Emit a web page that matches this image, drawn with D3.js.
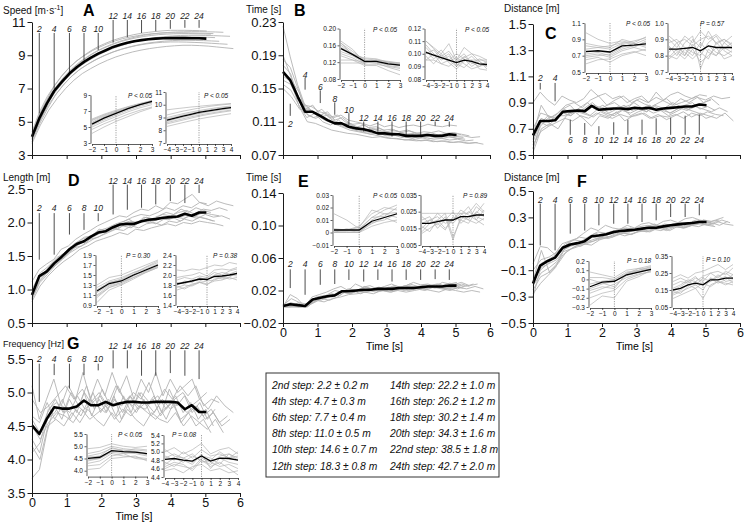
<!DOCTYPE html>
<html><head><meta charset="utf-8">
<script src="https://cdn.jsdelivr.net/npm/d3@7"></script>
<style>body{margin:0;background:#fff}svg{display:block}text{font-family:"Liberation Sans",Arial,Helvetica,sans-serif}</style>
</head><body><svg id="c" width="747" height="523"></svg>
<script>
// ---------------- DATA ----------------
const meanTimes = [0,0.21,0.43,0.64,0.86,1.08,1.29,1.50,1.70,1.91,2.13,2.34,2.54,2.75,2.95,3.16,3.36,3.57,3.78,3.99,4.20,4.41,4.61,4.82,5.03];
const athleteDur = [0.21,0.215,0.22,0.225,0.23,0.242,0.238,0.235,0.218];
const stepLabels = [2,4,6,8,10,12,14,16,18,20,22,24];
const timeTicks = [0,1,2,3,4,5,6];
const inset1X = [-2,-1,0,1,2,3];
const inset2X = [-4,-3,-2,-1,0,1,2,3,4];

// A speed
const speedTicks = [3,5,7,9,11];
const speedMean = [4.1,5.2,6.1,6.85,7.4,7.9,8.28,8.6,8.86,9.1,9.3,9.5,9.63,9.75,9.84,9.91,9.96,10.0,10.02,10.03,10.03,10.03,10.02,10.02,10.0];
const speedLines = [
 [4.2,5.4,6.3,7.1,7.7,8.2,8.6,8.95,9.25,9.5,9.7,9.88,10.02,10.14,10.24,10.32,10.38,10.43,10.47,10.5,10.5,10.5,10.49,10.48,10.46],
 [4.0,5.2,6.1,6.9,7.5,8.0,8.4,8.75,9.05,9.3,9.5,9.68,9.83,9.95,10.05,10.13,10.19,10.24,10.27,10.29,10.3,10.3,10.29,10.28,10.27],
 [3.9,5.0,6.0,6.8,7.4,7.9,8.3,8.63,8.9,9.13,9.33,9.5,9.64,9.76,9.86,9.94,10.0,10.05,10.08,10.1,10.1,10.1,10.09,10.08,10.06],
 [3.8,4.9,5.8,6.6,7.2,7.7,8.1,8.42,8.7,8.93,9.13,9.3,9.44,9.56,9.66,9.74,9.8,9.85,9.88,9.9,9.9,9.89,9.88,9.86,9.84],
 [4.3,5.5,6.4,7.1,7.7,8.2,8.6,8.93,9.22,9.46,9.66,9.84,9.98,10.1,10.2,10.27,10.33,10.37,10.4,10.41,10.42,10.42,10.41,10.4,10.38],
 [3.7,4.8,5.7,6.4,7.0,7.5,7.9,8.2,8.47,8.7,8.9,9.06,9.2,9.31,9.4,9.47,9.53,9.57,9.6,9.6,9.58,9.55,9.5,9.45,9.4],
 [4.1,5.3,6.2,6.9,7.5,8.0,8.4,8.72,9.0,9.24,9.44,9.61,9.76,9.88,9.98,10.06,10.12,10.16,10.19,10.2,10.2,10.19,10.18,10.16,10.14],
 [4.0,5.1,6.0,6.7,7.3,7.8,8.2,8.5,8.77,9.0,9.2,9.36,9.49,9.6,9.68,9.74,9.78,9.8,9.8,9.79,9.77,9.75,9.72,9.69,9.66],
 [4.4,5.6,6.5,7.2,7.8,8.3,8.7,9.0,9.28,9.5,9.7,9.86,10.0,10.1,10.18,10.25,10.3,10.33,10.35,10.35,10.35,10.34,10.33,10.32,10.3]];
const speedMarkLabel = [10.59,10.59,10.59,10.59,10.59,11.37,11.37,11.37,11.37,11.37,11.37,11.37];
const speedMarkFrom = [10.34,10.34,10.34,10.34,10.34,11.12,11.12,11.12,11.12,11.12,11.12,11.12];
const speedMarkTo = [5.5,6.94,7.97,8.69,9.31,9.76,10.09,10.34,10.44,10.59,10.65,10.65];
const speedIn1Ticks = [3,5,7,9], speedIn2Ticks = [7,8,9,10,11];
const speedIn1Mean = [5.35,6.1,6.7,7.3,7.8,8.2];
const speedIn1Lines = [[5.9,6.5,7.0,7.5,7.9,8.3],[5.8,6.4,6.9,7.4,7.8,8.2],[5.6,6.3,6.85,7.35,7.8,8.15],[5.2,5.9,6.5,7.1,7.6,8.0],[5.0,5.7,6.3,6.9,7.4,7.8],[4.7,5.4,6.0,6.6,7.1,7.5],[4.2,5.0,5.7,6.3,6.9,7.4],[5.5,6.2,6.8,7.3,7.75,8.1],[6.0,6.6,7.1,7.55,7.95,8.3]];
const speedIn2Mean = [8.8,8.95,9.1,9.25,9.4,9.5,9.6,9.7,9.78];
const speedIn2Lines = [[9.6,9.68,9.75,9.82,9.88,9.94,10.0,10.05,10.1],[9.2,9.35,9.5,9.62,9.74,9.84,9.93,10.0,10.06],[9.0,9.15,9.3,9.43,9.55,9.65,9.75,9.83,9.9],[8.7,8.87,9.02,9.17,9.3,9.42,9.52,9.62,9.7],[8.5,8.65,8.8,8.95,9.1,9.22,9.33,9.43,9.52],[8.3,8.45,8.6,8.75,8.88,9.0,9.1,9.2,9.3],[8.9,9.05,9.2,9.33,9.46,9.57,9.67,9.76,9.84],[8.6,8.75,8.9,9.05,9.18,9.3,9.4,9.5,9.58]];
const speedP = ["P < 0.05","P < 0.05"];

// B contact time
const contactTicks = [0.07,0.11,0.15,0.19,0.23];
const contactMean = [0.170,0.160,0.140,0.122,0.122,0.117,0.112,0.108,0.108,0.104,0.102,0.101,0.099,0.096,0.096,0.095,0.095,0.093,0.093,0.093,0.094,0.093,0.093,0.095,0.094];
const contactLines = [
 [.225,.188,.155,.13,.128,.122,.12,.115,.118,.112,.11,.108,.105,.108,.104,.106,.103,.105,.106,.104,.107,.105,.104,.106,.105],
 [.185,.175,.15,.125,.13,.118,.122,.112,.115,.108,.104,.106,.1,.102,.098,.1,.097,.099,.096,.098,.097,.099,.096,.097,.095],
 [.19,.165,.14,.12,.115,.118,.11,.108,.104,.102,.1,.098,.096,.095,.093,.094,.092,.09,.092,.089,.091,.09,.092,.09,.089],
 [.16,.155,.135,.128,.12,.125,.115,.118,.11,.107,.108,.103,.104,.1,.101,.098,.1,.097,.095,.097,.094,.096,.093,.095,.093],
 [.155,.148,.13,.115,.12,.11,.106,.112,.104,.1,.098,.095,.097,.093,.094,.091,.093,.09,.091,.089,.09,.088,.089,.087,.088],
 [.15,.14,.125,.125,.118,.112,.108,.104,.1,.098,.096,.094,.092,.09,.089,.088,.087,.088,.086,.087,.085,.086,.084,.085,.083],
 [.17,.16,.145,.118,.114,.12,.112,.106,.108,.103,.1,.102,.099,.097,.098,.095,.096,.094,.095,.093,.094,.092,.093,.091,.092],
 [.165,.158,.128,.11,.108,.104,.1,.098,.096,.095,.093,.091,.092,.09,.09,.088,.089,.087,.088,.086,.087,.085,.086,.084,.085],
 [.178,.168,.14,.13,.122,.116,.118,.11,.108,.106,.102,.1,.101,.098,.097,.096,.094,.095,.093,.094,.092,.093,.092,.09,.091]];
const contactMarkLabel = [0.1075,0.1667,0.1518,0.1373,0.1244,0.1143,0.1143,0.1143,0.1143,0.1143,0.1143,0.1143];
const contactMarkFrom = [0.1317,0.163,0.1478,0.1333,0.1204,0.1103,0.1103,0.1103,0.1103,0.1103,0.1103,0.1103];
const contactMarkTo = [0.1171,0.1486,0.1325,0.1184,0.1063,0.0982,0.0962,0.0922,0.0922,0.0922,0.105,0.104];
const contactIn1Ticks = [0.08,0.12,0.16,0.20], contactIn2Ticks = [0.08,0.09,0.10,0.11,0.12];
const contactIn1Mean = [0.152,0.138,0.122,0.122,0.116,0.113];
const contactIn1Lines = [[0.17,0.15,0.12,0.125,0.12,0.115],[0.165,0.145,0.125,0.12,0.118,0.116],[0.16,0.14,0.128,0.125,0.122,0.118],[0.155,0.14,0.12,0.118,0.115,0.112],[0.145,0.135,0.118,0.122,0.112,0.108],[0.14,0.13,0.115,0.115,0.11,0.105],[0.135,0.125,0.12,0.118,0.108,0.1],[0.125,0.125,0.112,0.112,0.1,0.09],[0.118,0.118,0.118,0.125,0.118,0.112],[0.165,0.138,0.13,0.128,0.12,0.118]];
const contactIn2Mean = [0.101,0.099,0.097,0.095,0.093,0.095,0.094,0.092,0.0915];
const contactIn2Lines = [[0.11,0.105,0.1,0.108,0.095,0.105,0.1,0.098,0.095],[0.105,0.098,0.103,0.095,0.1,0.096,0.09,0.094,0.088],[0.1,0.103,0.096,0.1,0.09,0.098,0.093,0.09,0.092],[0.098,0.092,0.099,0.093,0.088,0.094,0.098,0.092,0.09],[0.107,0.1,0.095,0.098,0.092,0.089,0.095,0.088,0.087],[0.095,0.1,0.092,0.09,0.095,0.1,0.092,0.096,0.093],[0.102,0.096,0.1,0.094,0.097,0.092,0.088,0.09,0.094],[0.095,0.095,0.092,0.095,0.09,0.095,0.095,0.095,0.095],[0.11,0.104,0.098,0.102,0.094,0.097,0.1,0.094,0.09]];
const contactP = ["P < 0.05","P < 0.05"];

// C contact distance
const cdistTicks = [0.5,0.7,0.9,1.1,1.3,1.5];
const cdistMean = [0.65,0.76,0.76,0.765,0.83,0.835,0.84,0.835,0.875,0.845,0.85,0.855,0.855,0.85,0.86,0.855,0.86,0.845,0.855,0.86,0.865,0.87,0.87,0.885,0.88];
const cdistLines = [
 [.9,.98,.92,.88,.95,.92,.9,.93,1.0,.95,.97,.93,.95,.9,.93,.95,.9,.98,.92,.96,.98,.95,.93,.96,.95],
 [.55,.72,.78,.8,.85,.88,.82,.86,.9,.85,.88,.9,.86,.88,.92,.89,.87,.9,.93,.88,.9,.92,.95,.9,.92],
 [.6,.75,.72,.78,.82,.8,.85,.83,.88,.86,.82,.85,.88,.84,.86,.83,.88,.86,.82,.85,.88,.9,.85,.87,.84],
 [.7,.82,.8,.76,.85,.82,.86,.9,.85,.88,.84,.87,.85,.9,.86,.88,.84,.86,.9,.87,.85,.88,.9,.93,.88],
 [.58,.68,.72,.75,.78,.76,.8,.78,.82,.8,.78,.81,.79,.8,.82,.78,.8,.79,.81,.78,.82,.8,.83,.81,.8],
 [.52,.7,.74,.7,.8,.83,.78,.72,.8,.78,.83,.76,.8,.82,.78,.81,.77,.8,.83,.79,.82,.8,.78,.82,.76],
 [.65,.88,.78,.82,.88,.9,.86,.92,.95,.88,.92,.95,.9,.93,.9,.94,.91,.88,.93,.9,.94,.92,.95,.93,.94],
 [.62,.78,.75,.8,.8,.84,.82,.8,.85,.82,.8,.84,.82,.85,.83,.87,.84,.82,.86,.84,.87,.85,.83,.86,.83],
 [.55,.74,.8,.78,.82,.8,.84,.82,.79,.83,.8,.82,.85,.8,.83,.85,.82,.84,.8,.83,.86,.84,.82,.78,.8]];
const cdistMarkLabel = [1.09,1.09,0.615,0.615,0.615,0.615,0.615,0.615,0.615,0.615,0.615,0.615];
const cdistMarkFrom = [1.05,1.05,0.77,0.744,0.72,0.75,0.77,0.77,0.78,0.785,0.8,0.81];
const cdistMarkTo = [1.0,0.91,0.654,0.654,0.654,0.654,0.654,0.654,0.654,0.654,0.654,0.654];
const cdistIn1Ticks = [0.5,0.7,0.9,1.1], cdistIn2Ticks = [0.7,0.8,0.9,1.0];
const cdistIn1Mean = [0.75,0.76,0.745,0.82,0.83,0.845];
const cdistIn1Lines = [[0.98,0.9,0.85,0.88,0.85,0.82],[0.82,0.8,0.78,0.85,0.88,0.92],[0.78,0.8,0.82,0.86,0.84,0.9],[0.72,0.74,0.7,0.78,0.82,0.86],[0.68,0.7,0.72,0.8,0.85,0.8],[0.6,0.65,0.66,0.72,0.75,0.7],[0.85,0.82,0.8,0.9,0.86,0.93],[0.7,0.72,0.68,0.76,0.8,0.76],[0.76,0.75,0.74,0.84,0.8,0.88],[0.65,0.68,0.62,0.7,0.74,0.78]];
const cdistIn2Mean = [0.84,0.84,0.845,0.85,0.83,0.86,0.85,0.85,0.85];
const cdistIn2Lines = [[0.9,0.85,0.92,0.88,0.95,0.9,0.93,0.88,0.92],[0.82,0.88,0.8,0.9,0.85,0.95,0.87,0.9,0.86],[0.8,0.78,0.84,0.8,0.88,0.82,0.8,0.85,0.82],[0.88,0.9,0.85,0.82,0.8,0.88,0.92,0.84,0.88],[0.78,0.82,0.78,0.84,0.76,0.8,0.85,0.78,0.8],[0.86,0.8,0.88,0.92,0.72,0.84,0.8,0.88,0.84],[0.92,0.88,0.9,0.86,0.9,0.92,0.88,0.9,0.87],[0.79,0.84,0.82,0.78,0.83,0.86,0.82,0.8,0.83],[0.85,0.83,0.8,0.87,0.82,0.78,0.88,0.83,0.8]];
const cdistP = ["P < 0.05","P = 0.57"];

// D step length
const lengthTicks = [0.5,1.0,1.5,2.0,2.5];
const lengthMean = [0.92,1.2,1.27,1.39,1.49,1.6,1.68,1.72,1.79,1.85,1.87,1.93,1.97,1.98,1.98,2.02,2.04,2.05,2.07,2.08,2.09,2.13,2.1,2.15,2.15];
const lengthLines = [
 [1.12,1.3,1.38,1.45,1.6,1.65,1.75,1.82,1.88,1.95,2.0,2.05,2.1,2.08,2.15,2.2,2.18,2.25,2.2,2.3,2.28,2.35,2.42,2.3,2.28],
 [.95,1.2,1.3,1.42,1.5,1.62,1.7,1.78,1.8,1.9,1.88,1.95,2.0,2.05,1.98,2.08,2.05,2.1,2.15,2.12,2.2,2.15,2.22,2.18,2.15],
 [.85,1.1,1.22,1.35,1.45,1.55,1.62,1.68,1.75,1.8,1.85,1.9,1.88,1.95,1.92,1.98,2.0,1.96,2.02,2.0,2.05,2.02,2.08,2.05,2.02],
 [.9,1.18,1.25,1.4,1.52,1.58,1.72,1.7,1.82,1.86,1.92,1.9,1.98,1.95,2.02,2.0,2.08,2.05,2.1,2.08,2.12,2.1,2.15,2.12,2.1],
 [.82,1.05,1.2,1.32,1.42,1.5,1.6,1.65,1.72,1.76,1.8,1.85,1.82,1.9,1.88,1.92,1.95,1.98,1.95,2.0,1.98,2.02,2.0,1.98,1.95],
 [1.0,1.25,1.35,1.48,1.55,1.68,1.75,1.8,1.88,1.92,1.98,2.02,2.08,2.12,2.1,2.15,2.22,2.18,2.25,2.22,2.3,2.25,2.32,2.28,2.25],
 [.88,1.15,1.28,1.38,1.5,1.62,1.65,1.75,1.78,1.85,1.9,1.95,1.92,2.0,2.02,1.98,2.05,2.08,2.02,2.1,2.06,2.12,2.08,2.1,2.05],
 [.92,1.22,1.3,1.45,1.55,1.6,1.7,1.76,1.84,1.88,1.95,1.98,2.02,2.0,2.08,2.05,2.12,2.1,2.15,2.18,2.12,2.2,2.18,2.22,2.18],
 [.86,1.12,1.25,1.36,1.46,1.56,1.66,1.72,1.78,1.84,1.88,1.92,1.98,1.96,2.0,2.04,2.02,2.06,2.04,2.08,2.06,2.1,2.08,2.06,2.02]];
const lengthMarkLabel = [2.216,2.216,2.216,2.216,2.216,2.62,2.62,2.62,2.62,2.62,2.62,2.62];
const lengthMarkFrom = [2.14,2.14,2.14,2.14,2.14,2.565,2.565,2.565,2.565,2.565,2.565,2.565];
const lengthMarkTo = [1.445,1.52,1.82,1.89,2.02,2.12,2.19,2.22,2.27,2.32,2.29,2.44];
const lengthIn1Ticks = [0.9,1.1,1.3,1.5,1.7,1.9], lengthIn2Ticks = [1.4,1.6,1.8,2.0,2.2,2.4];
const lengthIn1Mean = [1.18,1.33,1.38,1.5,1.6,1.7];
const lengthIn1Lines = [[1.3,1.45,1.5,1.6,1.7,1.8],[1.25,1.38,1.45,1.55,1.65,1.75],[1.2,1.35,1.42,1.55,1.62,1.72],[1.1,1.28,1.35,1.48,1.6,1.7],[1.05,1.25,1.32,1.45,1.55,1.65],[0.95,1.2,1.3,1.42,1.55,1.65],[1.15,1.3,1.38,1.5,1.58,1.68],[1.2,1.35,1.4,1.52,1.66,1.78],[1.08,1.25,1.35,1.45,1.57,1.67]];
const lengthIn2Mean = [1.82,1.85,1.88,1.92,1.91,1.97,1.98,2.0,2.03];
const lengthIn2Lines = [[2.1,2.08,2.12,2.1,2.15,2.2,2.18,2.25,2.22],[1.95,1.98,2.0,2.05,1.98,2.1,2.12,2.1,2.15],[1.8,1.88,1.85,1.95,1.9,2.0,2.05,2.02,2.08],[1.7,1.75,1.82,1.85,1.8,1.92,1.95,2.0,1.98],[1.85,1.82,1.9,1.88,1.95,1.98,1.92,1.96,2.05],[1.75,1.8,1.78,1.85,1.88,1.9,1.96,1.92,1.95],[1.9,1.95,1.92,1.98,1.95,2.05,2.0,2.08,2.12],[1.78,1.72,1.8,1.86,1.82,1.88,1.9,1.95,1.9]];
const lengthP = ["P = 0.30","P = 0.38"];

// E flight time
const flightTicks = [-0.02,0.02,0.06,0.10,0.14];
const flightMean = [0.001,0.003,0.002,0.001,0.009,0.011,0.013,0.014,0.019,0.019,0.02,0.021,0.021,0.022,0.022,0.022,0.023,0.023,0.023,0.024,0.025,0.025,0.025,0.026,0.026];
const flightLines = [
 [0,.015,.01,0,.012,.015,.018,.022,.025,.02,.028,.024,.026,.022,.025,.028,.024,.026,.03,.027,.028,.025,.03,.028,.03],
 [0,.005,0,0,.008,.01,.015,.02,.018,.022,.02,.025,.022,.024,.02,.025,.022,.026,.024,.022,.026,.028,.025,.027,.024],
 [0,0,.005,0,.01,.008,.012,.015,.02,.018,.02,.018,.022,.02,.024,.022,.02,.024,.022,.025,.023,.026,.024,.022,.026],
 [0,0,0,.002,.005,.01,.008,.012,.018,.02,.016,.02,.018,.022,.02,.022,.025,.022,.024,.026,.024,.022,.025,.028,.025],
 [0,.002,0,0,.006,.012,.014,.016,.02,.018,.022,.02,.024,.022,.026,.024,.028,.025,.027,.024,.026,.029,.027,.025,.028],
 [.002,.01,.005,.003,.012,.014,.012,.018,.016,.02,.018,.022,.02,.018,.022,.02,.022,.02,.024,.022,.02,.024,.022,.025,.022],
 [0,0,0,0,.008,.006,.01,.012,.015,.016,.018,.016,.02,.018,.02,.018,.02,.022,.02,.018,.022,.02,.018,.02,.018],
 [0,.005,.002,0,.01,.012,.016,.014,.022,.02,.024,.022,.02,.024,.022,.026,.024,.022,.026,.028,.025,.027,.03,.026,.028],
 [0,0,0,0,.006,.01,.012,.015,.018,.016,.02,.018,.021,.019,.022,.02,.023,.021,.024,.022,.025,.023,.022,.024,.023]];
const flightMarkLabel = [0.0523,0.0523,0.0523,0.0523,0.0523,0.0523,0.0523,0.0523,0.0523,0.0523,0.0523,0.0523];
const flightMarkFrom = [0.046,0.046,0.046,0.046,0.046,0.046,0.046,0.046,0.046,0.046,0.046,0.046];
const flightMarkTo = [0.023,0.0147,0.027,0.028,0.033,0.031,0.033,0.031,0.033,0.033,0.034,0.033];
const flightIn1Ticks = [-0.01,0,0.01,0.02,0.03], flightIn2Ticks = [0.005,0.015,0.025,0.035];
const flightIn1Mean = [0.002,0.002,0.002,0.009,0.012,0.015];
const flightIn1Lines = [[0.015,0.01,0.003,0.012,0.018,0.022],[0.002,0.002,0.005,0.015,0.02,0.018],[0,0,0,0.008,0.01,0.015],[0.002,0.002,0,0.01,0.015,0.012],[0,0,0,0.005,0.008,0.01],[0.001,0.001,0.002,0.012,0.013,0.02],[0,0.003,0.001,0.007,0.012,0.008],[0.003,0.002,0.004,0.018,0.015,0.016]];
const flightIn2Mean = [0.018,0.018,0.019,0.02,0.02,0.022,0.022,0.023,0.023];
const flightIn2Lines = [[0.024,0.024,0.024,0.024,0.024,0.024,0.024,0.03,0.025],[0.013,0.018,0.02,0.024,0.01,0.02,0.025,0.022,0.02],[0.016,0.013,0.02,0.015,0.02,0.024,0.02,0.028,0.024],[0.02,0.022,0.015,0.02,0.018,0.023,0.028,0.02,0.026],[0.012,0.015,0.018,0.014,0.022,0.02,0.018,0.025,0.022],[0.022,0.018,0.024,0.02,0.025,0.018,0.022,0.024,0.03],[0.018,0.02,0.017,0.022,0.008,0.022,0.02,0.018,0.021],[0.015,0.02,0.022,0.018,0.02,0.026,0.023,0.02,0.017]];
const flightP = ["P < 0.05","P = 0.89"];

// F flight distance
const fdistTicks = [-0.5,-0.3,-0.1,0.1,0.3,0.5];
const fdistMean = [-0.2,-0.065,-0.03,-0.005,0.07,0.095,0.105,0.12,0.157,0.163,0.172,0.19,0.197,0.202,0.207,0.215,0.222,0.222,0.232,0.24,0.247,0.253,0.258,0.265,0.265];
const fdistLines = [
 [-.05,.08,.07,.02,.1,.12,.14,.18,.22,.2,.24,.22,.21,.24,.22,.25,.26,.24,.27,.28,.26,.29,.3,.28,.27],
 [-.15,-.1,-.05,0,.05,.08,.1,.12,.15,.14,.17,.18,.2,.19,.22,.21,.23,.24,.22,.25,.24,.26,.28,.27,.26],
 [-.25,-.15,-.12,-.06,.02,.06,.08,.1,.12,.14,.15,.17,.18,.17,.2,.19,.21,.22,.2,.23,.22,.24,.25,.24,.23],
 [-.2,-.05,-.02,.02,.08,.12,.15,.14,.18,.16,.19,.2,.22,.21,.2,.23,.24,.22,.25,.24,.26,.25,.28,.27,.28],
 [-.3,-.08,-.05,-.02,.06,.1,.08,.12,.14,.16,.15,.18,.19,.2,.22,.21,.23,.22,.24,.23,.25,.27,.26,.28,.3],
 [-.18,.05,-.12,-.05,.04,.08,.1,.09,.13,.15,.18,.16,.18,.2,.19,.22,.2,.23,.22,.24,.26,.24,.27,.25,.24],
 [-.22,-.12,-.08,-.03,.08,.1,.12,.15,.17,.18,.2,.22,.21,.23,.24,.22,.25,.24,.26,.25,.27,.26,.25,.28,.26],
 [-.1,-.02,0,.04,.1,.13,.12,.16,.19,.18,.2,.19,.22,.2,.23,.25,.22,.24,.26,.23,.25,.28,.26,.24,.27],
 [-.28,-.2,-.14,-.08,.04,.06,.09,.11,.12,.15,.14,.16,.18,.17,.19,.2,.21,.2,.22,.23,.22,.24,.23,.25,.24]];
const fdistMarkLabel = [0.434,0.434,0.434,0.434,0.434,0.434,0.434,0.434,0.434,0.434,0.434,0.434];
const fdistMarkFrom = [0.404,0.404,0.404,0.404,0.404,0.404,0.404,0.404,0.404,0.404,0.404,0.404];
const fdistMarkTo = [0.088,0.05,0.177,0.2,0.24,0.252,0.252,0.265,0.278,0.303,0.303,0.316];
const fdistIn1Ticks = [-0.3,-0.2,-0.1,0,0.1,0.2], fdistIn2Ticks = [0.05,0.15,0.25,0.35];
const fdistIn1Mean = [-0.08,-0.03,-0.02,0.05,0.08,0.11];
const fdistIn1Lines = [[0.08,0.05,0.02,0.1,0.12,0.15],[0.02,0.02,0.0,0.08,0.1,0.13],[-0.05,-0.02,0.0,0.06,0.12,0.1],[-0.1,-0.05,-0.02,0.04,0.08,0.12],[-0.15,-0.1,-0.05,0.02,0.06,0.08],[-0.2,-0.15,-0.12,0.0,0.05,0.09],[-0.28,-0.18,-0.2,-0.02,0.03,0.1],[0.0,-0.04,-0.08,0.05,0.1,0.14],[-0.12,-0.08,-0.1,0.07,0.09,0.11]];
const fdistIn2Mean = [0.15,0.16,0.18,0.19,0.18,0.21,0.21,0.22,0.22];
const fdistIn2Lines = [[0.22,0.24,0.22,0.25,0.26,0.28,0.3,0.27,0.3],[0.18,0.2,0.19,0.22,0.2,0.25,0.26,0.24,0.28],[0.15,0.17,0.2,0.18,0.22,0.2,0.23,0.25,0.22],[0.12,0.14,0.16,0.18,0.15,0.22,0.19,0.21,0.24],[0.13,0.15,0.18,0.16,0.19,0.17,0.2,0.18,0.2],[0.1,0.12,0.14,0.16,0.1,0.18,0.2,0.19,0.18],[0.16,0.18,0.21,0.2,0.23,0.25,0.22,0.26,0.24],[0.14,0.13,0.17,0.2,0.18,0.2,0.24,0.2,0.21],[0.2,0.22,0.2,0.23,0.18,0.22,0.21,0.23,0.19]];
const fdistP = ["P = 0.18","P = 0.10"];

// G step frequency
const freqTicks = [3.5,4.0,4.5,5.0,5.5];
const freqMean = [4.51,4.38,4.61,4.78,4.76,4.76,4.79,4.88,4.81,4.81,4.86,4.81,4.84,4.86,4.86,4.85,4.85,4.86,4.86,4.86,4.85,4.75,4.81,4.71,4.71];
const freqLines = [
 [5.1,4.6,4.9,5.2,4.8,5.1,4.9,5.3,4.9,5.2,4.95,5.3,5.0,5.25,4.9,5.2,5.0,5.3,4.95,5.2,5.0,5.1,5.2,4.9,5.0],
 [3.72,3.85,4.4,4.8,4.6,4.9,4.7,5.0,4.65,4.9,4.7,4.95,4.6,4.85,4.7,4.9,4.65,4.8,4.6,4.85,4.55,4.7,4.5,4.6,4.4],
 [4.3,4.1,4.6,4.7,4.9,4.6,4.8,4.7,5.0,4.7,4.9,4.65,4.95,4.7,5.0,4.8,4.95,4.7,5.05,4.8,4.95,4.7,4.85,4.6,4.75],
 [4.6,4.4,4.7,4.9,4.7,5.0,4.8,5.1,4.75,5.05,4.8,5.1,4.85,5.0,4.9,5.15,4.85,5.05,4.9,5.1,4.95,5.1,4.8,4.9,4.85],
 [4.2,4.0,4.5,4.6,4.5,4.7,4.55,4.75,4.6,4.5,4.7,4.55,4.75,4.6,4.5,4.7,4.6,4.55,4.7,4.5,4.65,4.55,4.45,4.6,4.4],
 [4.9,4.7,4.8,4.95,5.1,4.9,5.05,4.85,5.0,4.8,5.1,4.9,4.8,5.0,4.85,4.95,4.75,4.9,5.0,4.8,4.9,4.75,4.95,4.8,4.7],
 [4.5,4.3,4.55,4.7,4.65,4.55,4.75,4.6,4.7,4.8,4.6,4.75,4.65,4.8,4.7,4.6,4.75,4.85,4.6,4.7,4.8,4.6,4.7,4.5,4.6],
 [4.1,4.25,4.75,4.85,4.7,4.8,4.65,4.9,4.8,4.7,4.9,4.8,4.95,4.75,4.85,4.7,4.9,4.75,4.85,4.7,4.8,4.65,4.75,4.55,4.65],
 [4.65,4.55,4.85,4.6,4.8,4.7,4.95,4.75,4.85,4.95,4.75,4.9,4.7,4.95,4.8,4.75,4.9,4.65,4.8,4.95,4.7,4.85,4.6,4.75,4.5]];
const freqMarkLabel = [5.5,5.5,5.5,5.5,5.5,5.7,5.7,5.7,5.7,5.7,5.7,5.7];
const freqMarkFrom = [5.43,5.43,5.43,5.43,5.43,5.63,5.63,5.63,5.63,5.63,5.63,5.63];
const freqMarkTo = [4.86,5.26,5.06,5.26,5.33,5.36,5.36,5.25,5.25,5.29,5.25,5.2];
const freqIn1Ticks = [4.0,4.5,5.0,5.5], freqIn2Ticks = [4.4,4.6,4.8,5.0,5.2,5.4];
const freqIn1Mean = [4.5,4.55,4.82,4.78,4.76,4.7];
const freqIn1Lines = [[4.9,4.95,5.1,5.0,4.95,5.0],[4.7,4.8,5.0,4.9,4.85,4.8],[4.6,4.7,4.9,4.85,4.8,4.7],[4.4,4.5,4.75,4.7,4.75,4.65],[4.3,4.4,4.7,4.6,4.55,4.5],[4.2,4.25,4.6,4.7,4.5,4.45],[4.05,4.1,4.5,4.55,4.6,4.4],[4.55,4.6,4.95,4.8,4.9,4.85],[4.45,4.5,4.8,4.75,4.7,4.6]];
const freqIn2Mean = [4.82,4.84,4.8,4.78,4.9,4.78,4.85,4.84,4.8];
const freqIn2Lines = [[5.0,5.1,4.95,5.05,5.2,4.95,5.05,5.1,4.95],[4.9,4.8,5.0,4.85,5.05,4.9,4.95,4.85,5.0],[4.7,4.85,4.75,4.9,4.8,4.7,4.9,4.95,4.8],[4.6,4.7,4.65,4.6,4.85,4.75,4.65,4.7,4.6],[4.75,4.65,4.8,4.7,4.95,4.6,4.85,4.75,4.7],[4.55,4.6,4.5,4.65,4.7,4.55,4.6,4.5,4.55],[4.85,4.95,4.85,4.75,4.9,4.85,4.7,4.95,4.85],[5.05,4.9,4.85,4.95,4.75,4.8,5.0,4.85,4.9],[4.65,4.75,4.7,4.55,4.8,4.65,4.75,4.6,4.45]];
const freqP = ["P < 0.05","P = 0.08"];

// legend
const legendSteps = ["2nd","4th","6th","8th","10th","12th","14th","16th","18th","20th","22nd","24th"];
const legendDist = [2.2,4.7,7.7,11.0,14.6,18.3,22.2,26.2,30.2,34.3,38.5,42.7];
const legendSD = [0.2,0.3,0.4,0.5,0.7,0.8,1.0,1.2,1.4,1.6,1.8,2.0];

// ---------------- CONFIG (layout/style) ----------------
const panels = [
 {id:"A", title:"Speed [m·s", sup:"-1", dom:[3,11], ticks:speedTicks, fmt:"d", mean:speedMean, lines:speedLines, mLab:speedMarkLabel, mFrom:speedMarkFrom, mTo:speedMarkTo,
  box:{x0:32,x1:240,yt:22,yb:155}, tpos:[3,14], lpos:[83,16], xlab:false,
  insets:[{x:inset1X,dom:[3,9],ticks:speedIn1Ticks,fmt:"d",mean:speedIn1Mean,lines:speedIn1Lines,p:speedP[0],box:{x0:92,x1:152,yt:95,yb:143},pp:[128,97.5]},
          {x:inset2X,dom:[7,11],ticks:speedIn2Ticks,fmt:"d",mean:speedIn2Mean,lines:speedIn2Lines,p:speedP[1],box:{x0:167,x1:231,yt:92,yb:143},pp:[204,97.5]}]},
 {id:"B", title:"Time [s]", dom:[0.07,0.23], ticks:contactTicks, fmt:".2f", mean:contactMean, lines:contactLines, mLab:contactMarkLabel, mFrom:contactMarkFrom, mTo:contactMarkTo,
  box:{x0:283,x1:490,yt:22,yb:155}, tpos:[246,13], lpos:[294,16], xlab:false,
  insets:[{x:inset1X,dom:[0.08,0.20],ticks:contactIn1Ticks,fmt:".2f",mean:contactIn1Mean,lines:contactIn1Lines,p:contactP[0],box:{x0:341,x1:400,yt:28.5,yb:79},pp:[373,32]},
          {x:inset2X,dom:[0.08,0.12],ticks:contactIn2Ticks,fmt:".2f",mean:contactIn2Mean,lines:contactIn2Lines,p:contactP[1],box:{x0:426,x1:487,yt:28.5,yb:79},pp:[465,32]}]},
 {id:"C", title:"Distance [m]", dom:[0.5,1.5], ticks:cdistTicks, fmt:".1f", mean:cdistMean, lines:cdistLines, mLab:cdistMarkLabel, mFrom:cdistMarkFrom, mTo:cdistMarkTo,
  box:{x0:533,x1:740,yt:24,yb:155}, tpos:[504,12], lpos:[545,39], xlab:false,
  insets:[{x:inset1X,dom:[0.5,1.1],ticks:cdistIn1Ticks,fmt:".1f",mean:cdistIn1Mean,lines:cdistIn1Lines,p:cdistP[0],box:{x0:586,x1:646,yt:23,yb:72},pp:[626,26]},
          {x:inset2X,dom:[0.7,1.0],ticks:cdistIn2Ticks,fmt:".1f",mean:cdistIn2Mean,lines:cdistIn2Lines,p:cdistP[1],box:{x0:669,x1:732,yt:23,yb:72},pp:[700,26]}]},
 {id:"D", title:"Length [m]", dom:[0.5,2.5], ticks:lengthTicks, fmt:".1f", mean:lengthMean, lines:lengthLines, mLab:lengthMarkLabel, mFrom:lengthMarkFrom, mTo:lengthMarkTo,
  box:{x0:32,x1:240,yt:189,yb:323}, tpos:[3,181], lpos:[68,186], xlab:false,
  insets:[{x:inset1X,dom:[0.9,1.9],ticks:lengthIn1Ticks,fmt:".1f",mean:lengthIn1Mean,lines:lengthIn1Lines,p:lengthP[0],box:{x0:97,x1:158,yt:255,yb:305},pp:[126,258]},
          {x:inset2X,dom:[1.4,2.4],ticks:lengthIn2Ticks,fmt:".1f",mean:lengthIn2Mean,lines:lengthIn2Lines,p:lengthP[1],box:{x0:177,x1:237,yt:255,yb:305},pp:[213,258]}]},
 {id:"E", title:"Time [s]", dom:[-0.02,0.14], ticks:flightTicks, fmt:".2f", mean:flightMean, lines:flightLines, mLab:flightMarkLabel, mFrom:flightMarkFrom, mTo:flightMarkTo,
  box:{x0:283,x1:490,yt:193,yb:323}, tpos:[246,181], lpos:[298,187], xlab:true,
  insets:[{x:inset1X,dom:[-0.01,0.03],ticks:flightIn1Ticks,fmt:"z2",mean:flightIn1Mean,lines:flightIn1Lines,p:flightP[0],box:{x0:334,x1:397,yt:195,yb:245},pp:[373,198]},
          {x:inset2X,dom:[0.005,0.035],ticks:flightIn2Ticks,fmt:".3f",mean:flightIn2Mean,lines:flightIn2Lines,p:flightP[1],box:{x0:422,x1:484,yt:195,yb:245},pp:[463,198]}]},
 {id:"F", title:"Distance [m]", dom:[-0.5,0.5], ticks:fdistTicks, fmt:".1f", mean:fdistMean, lines:fdistLines, mLab:fdistMarkLabel, mFrom:fdistMarkFrom, mTo:fdistMarkTo,
  box:{x0:533,x1:740,yt:191,yb:323}, tpos:[504,181], lpos:[577,187], xlab:true,
  insets:[{x:inset1X,dom:[-0.3,0.2],ticks:fdistIn1Ticks,fmt:"z1",mean:fdistIn1Mean,lines:fdistIn1Lines,p:fdistP[0],box:{x0:590,x1:651,yt:261,yb:307},pp:[627,263]},
          {x:inset2X,dom:[0.05,0.35],ticks:fdistIn2Ticks,fmt:".2f",mean:fdistIn2Mean,lines:fdistIn2Lines,p:fdistP[1],box:{x0:673,x1:733,yt:256,yb:307},pp:[706,262]}]},
 {id:"G", title:"Frequency [Hz]", tsize:9, dom:[3.5,5.5], ticks:freqTicks, fmt:".1f", mean:freqMean, lines:freqLines, mLab:freqMarkLabel, mFrom:freqMarkFrom, mTo:freqMarkTo,
  box:{x0:32,x1:240,yt:359,yb:493}, tpos:[3,347], lpos:[67,349], xlab:true,
  insets:[{x:inset1X,dom:[3.8,5.5],ticks:freqIn1Ticks,fmt:".1f",mean:freqIn1Mean,lines:freqIn1Lines,p:freqP[0],box:{x0:88,x1:147,yt:434,yb:475.6},pp:[118,437]},
          {x:inset2X,dom:[4.4,5.4],ticks:freqIn2Ticks,fmt:".1f",mean:freqIn2Mean,lines:freqIn2Lines,p:freqP[1],box:{x0:165,x1:238,yt:435,yb:477},pp:[172,437]}]}
];

const GREY = "#b3b3b3", AX = "#1a1a1a";
function fmtOf(s){ if(s[0]==="z"){const f=d3.format("."+s[1]+"f");return v=>v===0?"0":f(v);} return d3.format(s); }

const svg = d3.select("#c");

function styleAxis(g, fs){
  g.selectAll("path.domain").attr("stroke",AX).attr("stroke-width",1);
  g.selectAll(".tick line").attr("stroke",AX);
  g.selectAll("text").attr("font-size",fs).attr("fill","#111").attr("font-family",null);
}

function drawPanel(p){
  const g = svg.append("g");
  const b = p.box;
  const x = d3.scaleLinear().domain([0,6]).range([b.x0,b.x1]);
  const y = d3.scaleLinear().domain(p.dom).range([b.yb,b.yt]);
  const line = d3.line().x(d=>x(d[0])).y(d=>y(d[1]));
  p.lines.forEach((vals,k)=>{
    g.append("path").attr("d",line(vals.map((v,i)=>[i*athleteDur[k],v])))
     .attr("fill","none").attr("stroke",GREY).attr("stroke-width",0.9);
  });
  stepLabels.forEach((s,i)=>{
    const t = meanTimes[s-1];
    g.append("line").attr("x1",x(t)).attr("x2",x(t)).attr("y1",y(p.mFrom[i])).attr("y2",y(p.mTo[i]))
     .attr("stroke","#3a3a3a").attr("stroke-width",0.9);
    g.append("text").attr("x",x(t)).attr("y",y(p.mLab[i])).attr("dy","0.35em").attr("text-anchor","middle")
     .attr("font-size",8.5).attr("font-style","italic").attr("fill","#222").text(s);
  });
  g.append("path").attr("d",line(p.mean.map((v,i)=>[meanTimes[i],v])))
   .attr("fill","none").attr("stroke","#000").attr("stroke-width",2.6).attr("stroke-linejoin","round");
  const ya = g.append("g").attr("transform",`translate(${b.x0},0)`)
    .call(d3.axisLeft(y).tickValues(p.ticks).tickFormat(fmtOf(p.fmt)).tickSize(4.5).tickSizeOuter(0).tickPadding(2));
  styleAxis(ya, 13);
  const xa = g.append("g").attr("transform",`translate(0,${b.yb})`)
    .call(d3.axisBottom(x).tickValues(timeTicks).tickFormat(p.xlab?d3.format("d"):()=>"").tickSize(4).tickSizeOuter(0).tickPadding(1));
  styleAxis(xa, 12.5);
  if(p.xlab){
    g.append("text").attr("x",x(3)-2).attr("y",b.yb+27).attr("text-anchor","middle").attr("font-size",10.5).text("Time [s]");
  }
  const tt = g.append("text").attr("x",p.tpos[0]).attr("y",p.tpos[1]).attr("font-size",p.tsize||10).attr("fill","#111").text(p.title);
  if(p.sup){ tt.append("tspan").attr("dy",-4).attr("font-size",7).text(p.sup); tt.append("tspan").attr("dy",4).text("]"); }
  g.append("text").attr("x",p.lpos[0]).attr("y",p.lpos[1]).attr("font-size",16).attr("font-weight","bold").text(p.id);
  p.insets.forEach(drawInset);
}

function drawInset(c){
  const g = svg.append("g");
  const b = c.box;
  const x = d3.scaleLinear().domain(d3.extent(c.x)).range([b.x0,b.x1]);
  const y = d3.scaleLinear().domain(c.dom).range([b.yb,b.yt]);
  const line = d3.line().x((d,i)=>x(c.x[i])).y(d=>y(d));
  c.lines.forEach(vals=>{
    g.append("path").attr("d",line(vals)).attr("fill","none").attr("stroke",GREY).attr("stroke-width",0.7);
  });
  g.append("line").attr("x1",x(0)).attr("x2",x(0)).attr("y1",b.yb).attr("y2",b.yt)
   .attr("stroke","#777").attr("stroke-width",0.7).attr("stroke-dasharray","1.2,1.2");
  g.append("path").attr("d",line(c.mean)).attr("fill","none").attr("stroke","#000").attr("stroke-width",1.3);
  const ya = g.append("g").attr("transform",`translate(${b.x0-1.5},0)`)
    .call(d3.axisLeft(y).tickValues(c.ticks).tickFormat(fmtOf(c.fmt)).tickSize(2).tickSizeOuter(0).tickPadding(1.5));
  styleAxis(ya, 6.5);
  const xa = g.append("g").attr("transform",`translate(0,${b.yb+1})`)
    .call(d3.axisBottom(x).tickValues(c.x).tickFormat(d3.format("d")).tickSize(2).tickSizeOuter(0).tickPadding(1.5));
  styleAxis(xa, 6.5);
  ya.selectAll("path.domain,.tick line").attr("stroke-width",0.7);
  xa.selectAll("path.domain,.tick line").attr("stroke-width",0.7);
  g.append("text").attr("x",c.pp[0]).attr("y",c.pp[1]).attr("font-size",6.5).attr("font-style","italic").attr("fill","#111").text(c.p);
}

panels.forEach(drawPanel);

const lg = svg.append("g");
lg.append("rect").attr("x",266).attr("y",373).attr("width",233).attr("height",104).attr("fill","#fff").attr("stroke","#333").attr("stroke-width",1);
const f1 = d3.format(".1f");
legendSteps.forEach((s,i)=>{
  const col = Math.floor(i/6), row = i%6;
  lg.append("text").attr("x",col?390:272).attr("y",385+row*16.2).attr("dy","0.35em")
    .attr("font-size",10.3).attr("font-style","italic").attr("fill","#111")
    .text(`${s} step: ${f1(legendDist[i])} ± ${f1(legendSD[i])} m`);
});
</script>
</body></html>
